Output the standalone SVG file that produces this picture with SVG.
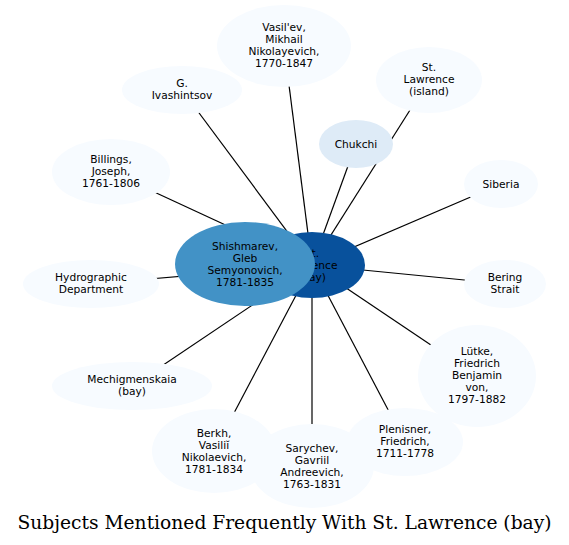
<svg xmlns="http://www.w3.org/2000/svg" width="569" height="545" viewBox="0 0 569 545">
<style>
.e{stroke:#000;stroke-width:1.2;fill:none}
.n{fill:#f7fbff;stroke:none}
text{font-family:"DejaVu Sans",sans-serif;font-size:10.67px;fill:#000;text-anchor:middle}
.t{font-family:"DejaVu Serif",serif;font-size:18.67px}
</style>
<rect width="569" height="545" fill="#fff"/>
<g id="edges">
<line class="e" x1="312" y1="265" x2="284" y2="46"/>
<line class="e" x1="312" y1="265" x2="182" y2="90"/>
<line class="e" x1="312" y1="265" x2="429" y2="80"/>
<line class="e" x1="312" y1="265" x2="356" y2="144"/>
<line class="e" x1="312" y1="265" x2="111" y2="172"/>
<line class="e" x1="312" y1="265" x2="501" y2="184"/>
<line class="e" x1="312" y1="265" x2="91" y2="284"/>
<line class="e" x1="312" y1="265" x2="505" y2="284"/>
<line class="e" x1="312" y1="265" x2="132" y2="386"/>
<line class="e" x1="312" y1="265" x2="477" y2="376"/>
<line class="e" x1="312" y1="265" x2="214" y2="451"/>
<line class="e" x1="312" y1="265" x2="312" y2="466"/>
<line class="e" x1="312" y1="265" x2="405" y2="442"/>
</g>
<g id="center">
<ellipse cx="312" cy="265" rx="53" ry="33" fill="#08519c"/>
<text x="312" y="256.5">St.</text>
<text x="312" y="268.5">Lawrence</text>
<text x="312" y="280.5">(bay)</text>
</g>
<g id="shishmarev">
<ellipse cx="245" cy="264" rx="70" ry="42" fill="#4292c6"/>
<text x="245" y="249.5">Shishmarev,</text>
<text x="245" y="261.5">Gleb</text>
<text x="245" y="273.5">Semyonovich,</text>
<text x="245" y="285.5">1781-1835</text>
</g>
<g id="vasilev">
<ellipse class="n" cx="284" cy="46" rx="67" ry="41"/>
<text x="284" y="31">Vasil'ev,</text>
<text x="284" y="43">Mikhail</text>
<text x="284" y="55">Nikolayevich,</text>
<text x="284" y="67">1770-1847</text>
</g>
<g id="ivashintsov">
<ellipse class="n" cx="182" cy="90" rx="60" ry="24"/>
<text x="182" y="87">G.</text>
<text x="182" y="99">Ivashintsov</text>
</g>
<g id="stlawrence-island">
<ellipse class="n" cx="429" cy="80" rx="53" ry="33"/>
<text x="429" y="71">St.</text>
<text x="429" y="83">Lawrence</text>
<text x="429" y="95">(island)</text>
</g>
<g id="chukchi">
<ellipse cx="356" cy="144" rx="37" ry="24" fill="#deebf7"/>
<text x="356" y="147.5">Chukchi</text>
</g>
<g id="billings">
<ellipse class="n" cx="111" cy="172" rx="59" ry="33"/>
<text x="111" y="163">Billings,</text>
<text x="111" y="175">Joseph,</text>
<text x="111" y="187">1761-1806</text>
</g>
<g id="siberia">
<ellipse class="n" cx="501" cy="184" rx="37" ry="24"/>
<text x="501" y="187.5">Siberia</text>
</g>
<g id="hydrographic">
<ellipse class="n" cx="91" cy="284" rx="68" ry="24"/>
<text x="91" y="281">Hydrographic</text>
<text x="91" y="293">Department</text>
</g>
<g id="bering">
<ellipse class="n" cx="505" cy="284" rx="41" ry="24"/>
<text x="505" y="281">Bering</text>
<text x="505" y="293">Strait</text>
</g>
<g id="mechigmenskaia">
<ellipse class="n" cx="132" cy="386" rx="80" ry="24"/>
<text x="132" y="383">Mechigmenskaia</text>
<text x="132" y="395">(bay)</text>
</g>
<g id="lutke">
<ellipse class="n" cx="477" cy="376" rx="59" ry="51"/>
<text x="477" y="355">Lütke,</text>
<text x="477" y="367">Friedrich</text>
<text x="477" y="379">Benjamin</text>
<text x="477" y="391">von,</text>
<text x="477" y="403">1797-1882</text>
</g>
<g id="berkh">
<ellipse class="n" cx="214" cy="451" rx="62" ry="42"/>
<text x="214" y="436.5">Berkh,</text>
<text x="214" y="448.5">Vasiliĭ</text>
<text x="214" y="460.5">Nikolaevich,</text>
<text x="214" y="472.5">1781-1834</text>
</g>
<g id="sarychev">
<ellipse class="n" cx="312" cy="466" rx="62" ry="42"/>
<text x="312" y="451.5">Sarychev,</text>
<text x="312" y="463.5">Gavriil</text>
<text x="312" y="475.5">Andreevich,</text>
<text x="312" y="487.5">1763-1831</text>
</g>
<g id="plenisner">
<ellipse class="n" cx="405" cy="442" rx="58" ry="34"/>
<text x="405" y="433">Plenisner,</text>
<text x="405" y="445">Friedrich,</text>
<text x="405" y="457">1711-1778</text>
</g>
<text class="t" x="284.5" y="529">Subjects Mentioned Frequently With St. Lawrence (bay)</text>
</svg>
